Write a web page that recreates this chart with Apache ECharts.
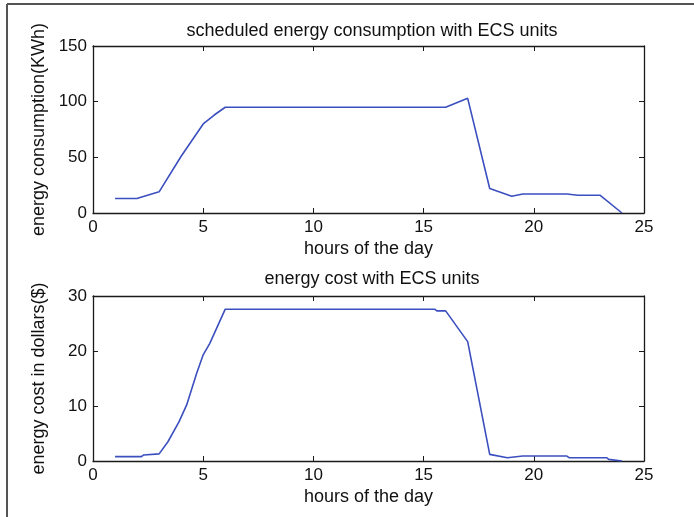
<!DOCTYPE html>
<html>
<head>
<meta charset="utf-8">
<script src="https://cdn.jsdelivr.net/npm/echarts@6/dist/echarts.min.js"></script>
<style>
html,body{margin:0;padding:0;background:#fff;}
#c{width:694px;height:517px;}
</style>
</head>
<body>
<div id="c"></div>
<script>
// Top panel: scheduled energy consumption (KWh) vs hour
const consHours = [1, 2, 2.1, 3, 4, 5, 5.5, 6, 16, 17, 18, 19, 19.5, 21.5, 22, 23, 24];
const consValues = [13, 13, 13.6, 19, 51, 80, 88, 95, 95, 103, 22, 15, 17, 17, 16, 16, 0];
// Bottom panel: energy cost ($) vs hour
const costHours = [1, 2.2, 2.3, 3, 3.4, 3.9, 4.25, 4.7, 5, 5.3, 6, 15.5, 15.6, 16, 17, 18, 18.8, 19.5, 21.5, 21.6, 23.3, 23.4, 24];
const costValues = [0.8, 0.8, 1.1, 1.3, 3.5, 7.1, 10.2, 15.9, 19.3, 21.4, 27.6, 27.6, 27.3, 27.3, 21.7, 1.2, 0.6, 0.9, 0.9, 0.6, 0.6, 0.3, 0];

const titles = ['scheduled energy consumption with ECS units', 'energy cost with ECS units'];
const xName = 'hours of the day';
const yNames = ['energy consumption(KWh)', 'energy cost in dollars($)'];
const xTicks = {min: 0, max: 25, interval: 5};
const yTicksTop = {min: 0, max: 150, interval: 50};
const yTicksBottom = {min: 0, max: 30, interval: 10};

const FONT = "'Liberation Sans', Arial, sans-serif";
const lineColor = '#3b4fbf';
const axisColor = '#1a1a1a';

function pairs(xs, ys) { return xs.map((x, i) => [x, ys[i]]); }

function xAxisPair(gridIndex) {
  return [
    {
      type: 'value', gridIndex, position: 'bottom', ...xTicks,
      name: xName, nameLocation: 'middle', nameGap: 27,
      nameTextStyle: {fontFamily: FONT, fontSize: 18, color: '#111'},
      axisLine: {show: true, onZero: false, lineStyle: {color: axisColor, width: 1.3}},
      axisTick: {show: true, inside: true, length: 5, lineStyle: {color: axisColor}},
      axisLabel: {fontFamily: FONT, fontSize: 17, color: '#111', margin: 6},
      splitLine: {show: false}
    },
    {
      type: 'value', gridIndex, position: 'top', ...xTicks,
      axisLine: {show: true, onZero: false, lineStyle: {color: axisColor, width: 1.3}},
      axisTick: {show: true, inside: true, length: 5, lineStyle: {color: axisColor}},
      axisLabel: {show: false},
      splitLine: {show: false}
    }
  ];
}

function yAxisPair(gridIndex, ticks, name) {
  return [
    {
      type: 'value', gridIndex, position: 'left', ...ticks,
      name, nameLocation: 'middle', nameGap: 45,
      nameTextStyle: {fontFamily: FONT, fontSize: 18, color: '#111'},
      axisLine: {show: true, onZero: false, lineStyle: {color: axisColor, width: 1.3}},
      axisTick: {show: true, inside: true, length: 5, lineStyle: {color: axisColor}},
      axisLabel: {fontFamily: FONT, fontSize: 17, color: '#111', margin: 6},
      splitLine: {show: false}
    },
    {
      type: 'value', gridIndex, position: 'right', ...ticks,
      axisLine: {show: true, onZero: false, lineStyle: {color: axisColor, width: 1.3}},
      axisTick: {show: true, inside: true, length: 5, lineStyle: {color: axisColor}},
      axisLabel: {show: false},
      splitLine: {show: false}
    }
  ];
}

const chart = echarts.init(document.getElementById('c'), null, {renderer: 'canvas'});
chart.setOption({
  backgroundColor: '#fff',
  animation: false,
  title: [
    {text: titles[0], left: 367, top: 17, textAlign: 'center',
     textStyle: {fontFamily: FONT, fontSize: 18, fontWeight: 'normal', color: '#111'}},
    {text: titles[1], left: 367, top: 265, textAlign: 'center',
     textStyle: {fontFamily: FONT, fontSize: 18, fontWeight: 'normal', color: '#111'}}
  ],
  grid: [
    {left: 93, right: 50, top: 46, height: 167},
    {left: 93, right: 50, top: 296, height: 165}
  ],
  xAxis: [...xAxisPair(0), ...xAxisPair(1)],
  yAxis: [...yAxisPair(0, yTicksTop, yNames[0]), ...yAxisPair(1, yTicksBottom, yNames[1])],
  series: [
    {type: 'line', xAxisIndex: 0, yAxisIndex: 0, data: pairs(consHours, consValues),
     showSymbol: false, lineStyle: {color: lineColor, width: 1.6}},
    {type: 'line', xAxisIndex: 2, yAxisIndex: 2, data: pairs(costHours, costValues),
     showSymbol: false, lineStyle: {color: lineColor, width: 1.6}}
  ],
  graphic: [
    {type: 'line', shape: {x1: 7, y1: 4, x2: 694, y2: 4}, style: {stroke: '#555', lineWidth: 2}},
    {type: 'line', shape: {x1: 7, y1: 4, x2: 7, y2: 517}, style: {stroke: '#555', lineWidth: 2}}
  ]
});
</script>
</body>
</html>
